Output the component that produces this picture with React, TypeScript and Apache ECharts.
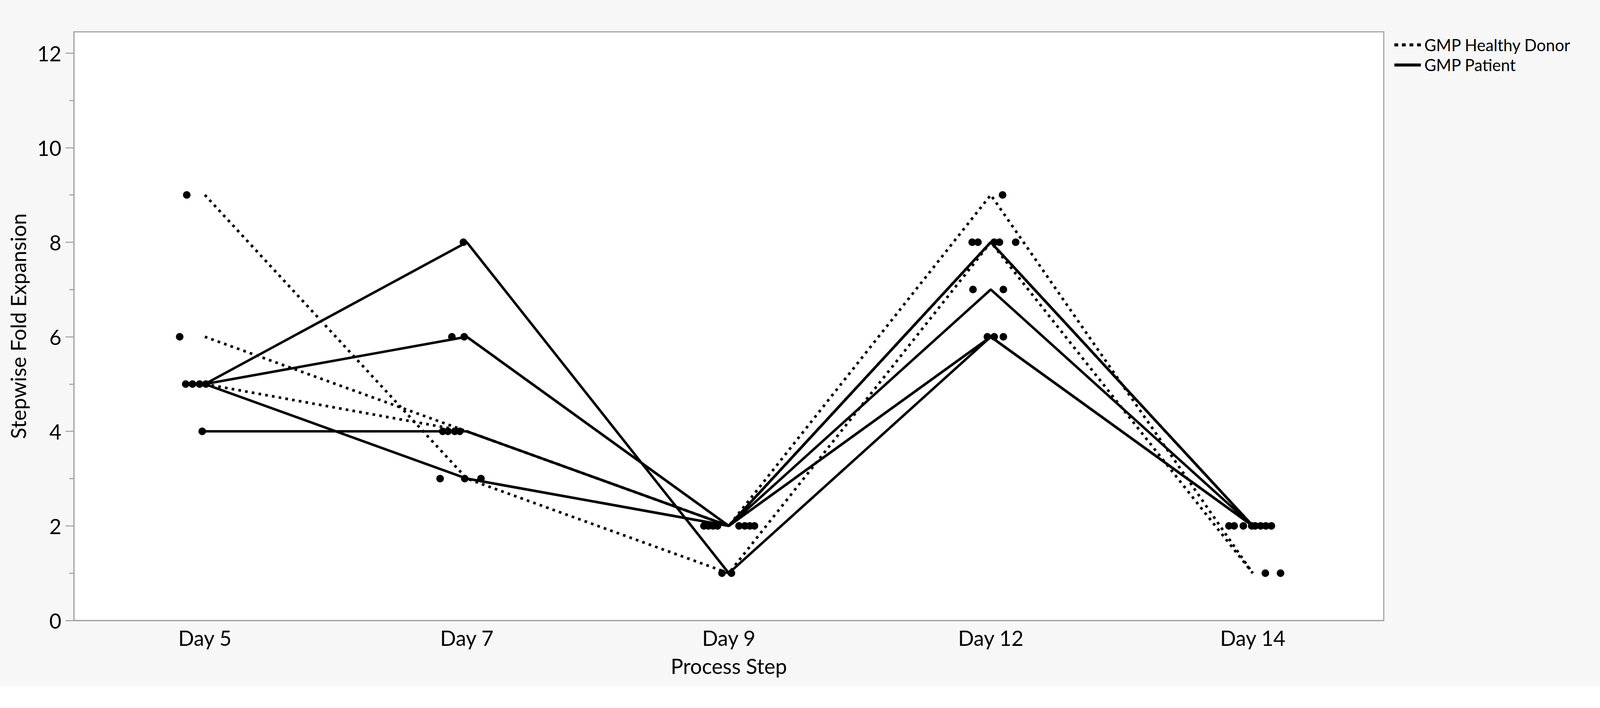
import React, { useEffect, useRef } from "react";
import * as echarts from "echarts";

const W = 4225;
const H = 1812;
const FONT = "Lato, 'Noto Sans', sans-serif";

// Categories
const days = ["Day 5", "Day 7", "Day 9", "Day 12", "Day 14"];

// Y axis ticks
const majorTicks = [0, 2, 4, 6, 8, 10, 12];
const minorTicks = [1, 3, 5, 7, 9, 11];

// Per-subject trajectories (line series), null = no measurement
const donorLines: (number | null)[][] = [
  [9, 3, 1, 8, 1],
  [6, 4, 2, 9, 1],
  [5, 4, 2, 8, 2],
];
const patientLines: (number | null)[][] = [
  [5, 8, 1, 6, 2],
  [5, 6, 2, 8, 2],
  [5, 3, 2, 7, 2],
  [4, 4, 2, 8, 2],
  [null, 6, 2, 6, 2],
  [null, 3, 2, 8, 2],
  [null, 4, 2, 6, 2],
];

// Jittered observation points per day (value, jitter in category units)
const day5Values = [9, 6, 5, 5, 5, 5, 4];
const day5Jitter = [-0.069, -0.096, -0.073, -0.047, -0.02, 0.004, -0.01];
const day7Values = [8, 6, 6, 4, 4, 4, 4, 3, 3, 3];
const day7Jitter = [-0.013, -0.057, -0.01, -0.092, -0.072, -0.046, -0.027, -0.102, -0.008, 0.054];
const day9Values = [2, 2, 2, 2, 2, 2, 2, 2, 1, 1];
const day9Jitter = [-0.095, -0.078, -0.06, -0.043, 0.039, 0.061, 0.08, 0.098, -0.026, 0.01];
const day12Values = [9, 8, 8, 8, 8, 8, 7, 7, 6, 6, 6];
const day12Jitter = [0.045, -0.071, -0.049, 0.013, 0.033, 0.095, -0.068, 0.048, -0.013, 0.013, 0.048];
const day14Values = [2, 2, 2, 2, 2, 2, 2, 2, 1, 1];
const day14Jitter = [-0.091, -0.071, -0.036, -0.004, 0.009, 0.03, 0.05, 0.071, 0.048, 0.106];

const pointValues = [day5Values, day7Values, day9Values, day12Values, day14Values];
const pointJitter = [day5Jitter, day7Jitter, day9Jitter, day12Jitter, day14Jitter];

const DONOR = "GMP Healthy Donor";
const PATIENT = "GMP Patient";

const DOTTED_ICON = "path://M0,0h10v8h-10zM20,0h10v8h-10zM40,0h10v8h-10zM60,0h10v8h-10z";
const SOLID_ICON = "path://M0,0h70v8h-70z";

export default function App() {
  const ref = useRef<HTMLDivElement>(null);
  const scale =
    typeof window !== "undefined"
      ? Math.min(window.innerWidth / W, window.innerHeight / H)
      : 1;

  useEffect(() => {
    document.body.style.margin = "0";
    document.body.style.overflow = "hidden";
    if (!ref.current) return;
    const chart = echarts.init(ref.current, undefined, { renderer: "svg" });

    const axisGray = "#a6a6a6";
    const lineSeries = (rows: (number | null)[][], name: string, dotted: boolean) =>
      rows.map((row) => ({
        type: "line",
        name,
        xAxisIndex: 1,
        yAxisIndex: 0,
        symbol: "none",
        silent: true,
        z: 2,
        data: row
          .map((v, i) => (v === null ? null : [i, v]))
          .filter((d) => d !== null),
        lineStyle: {
          color: "#000",
          width: dotted ? 7 : 6.5,
          type: dotted ? [7, 11] : "solid",
          cap: "butt",
        },
        itemStyle: { color: "#000" },
      }));

    const scatterData: number[][] = [];
    pointValues.forEach((vals, i) => {
      vals.forEach((v, k) => scatterData.push([i + pointJitter[i][k], v]));
    });

    const option: any = {
      animation: false,
      backgroundColor: "#f7f7f7",
      textStyle: { fontFamily: FONT },
      grid: {
        left: 195,
        top: 84,
        right: 571,
        bottom: 174,
        show: true,
        backgroundColor: "#ffffff",
        borderColor: axisGray,
        borderWidth: 3,
        containLabel: false,
      },
      legend: {
        orient: "vertical",
        left: 3677,
        top: 92,
        itemWidth: 70,
        itemHeight: 8,
        itemGap: 10,
        data: [
          { name: DONOR, icon: DOTTED_ICON },
          { name: PATIENT, icon: SOLID_ICON },
        ],
        itemStyle: { borderWidth: 0, color: "#000" },
        textStyle: { fontFamily: FONT, fontSize: 43, color: "#000", padding: [0, 0, 0, 4] },
        selectedMode: false,
      },
      xAxis: [
        {
          type: "category",
          data: days,
          boundaryGap: true,
          position: "bottom",
          axisLine: { show: true, onZero: false, lineStyle: { color: axisGray, width: 3 } },
          axisTick: { show: false },
          axisLabel: { fontSize: 55, color: "#000", margin: 18, fontFamily: FONT },
          splitLine: { show: false },
          name: "Process Step",
          nameLocation: "middle",
          nameGap: 92,
          nameTextStyle: { fontSize: 55, color: "#000", fontFamily: FONT },
        },
        {
          type: "value",
          min: -0.5,
          max: 4.5,
          show: false,
          axisLine: { onZero: false },
        },
      ],
      yAxis: [
        {
          type: "value",
          min: 0,
          max: 12.45,
          interval: 2,
          position: "left",
          axisLine: { show: true, onZero: false, lineStyle: { color: axisGray, width: 3 } },
          axisTick: {
            show: true,
            length: 22,
            customValues: majorTicks,
            lineStyle: { color: axisGray, width: 3 },
          },
          axisLabel: {
            customValues: majorTicks,
            fontSize: 55,
            color: "#000",
            margin: 33,
            fontFamily: FONT,
          },
          splitLine: { show: false },
          name: "Stepwise Fold Expansion",
          nameLocation: "middle",
          nameGap: 120,
          nameTextStyle: { fontSize: 55, color: "#000", fontFamily: FONT },
        },
        {
          type: "value",
          min: 0,
          max: 12.45,
          interval: 1,
          position: "left",
          axisLine: { show: false, onZero: false },
          axisTick: {
            show: true,
            length: 12,
            customValues: minorTicks,
            lineStyle: { color: axisGray, width: 3 },
          },
          axisLabel: { show: false },
          splitLine: { show: false },
        },
      ],
      series: [
        ...lineSeries(donorLines, DONOR, true),
        ...lineSeries(patientLines, PATIENT, false),
        {
          type: "scatter",
          name: "points",
          xAxisIndex: 1,
          yAxisIndex: 0,
          symbol: "circle",
          symbolSize: 20,
          silent: true,
          z: 3,
          itemStyle: { color: "#000", opacity: 1 },
          data: scatterData,
        },
      ],
    };

    chart.setOption(option);
    return () => chart.dispose();
  }, []);

  return (
    <div
      style={{
        position: "fixed",
        left: 0,
        top: 0,
        width: W,
        height: H,
        transform: `scale(${scale})`,
        transformOrigin: "0 0",
      }}
    >
      <div ref={ref} style={{ width: W, height: H }} />
    </div>
  );
}
